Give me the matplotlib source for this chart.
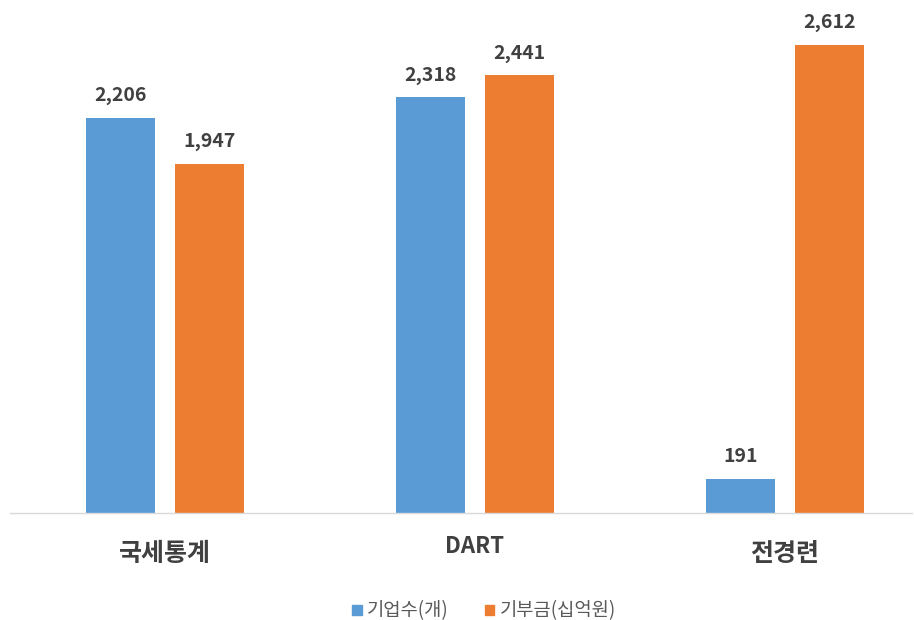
#!/usr/bin/env python3
import numpy as np
import matplotlib
matplotlib.use("Agg")
from matplotlib import pyplot as plt
from matplotlib.patches import Patch

plt.rcParams['font.family'] = ['Noto Sans CJK KR', 'DejaVu Sans']

# 데이터
categories = ['국세통계', 'DART', '전경련']
firms = [2206, 2318, 191]          # 기업수(개)
donations = [1947, 2441, 2612]     # 기부금(십억원)
series_names = ['기업수(개)', '기부금(십억원)']

blue = '#5B9BD5'
orange = '#ED7D31'
txt = '#404040'

W, H = 914, 620
fig = plt.figure(figsize=(W / 100, H / 100), dpi=100)
# axes in pixel coordinates: left 10, right 912, baseline y=513, top y=29
ax = fig.add_axes([10 / W, (H - 513) / H, 902 / W, (513 - 29) / H])

x = np.arange(len(categories))
width = 0.2226
off = 0.1444
b1 = ax.bar(x - off, firms, width, color=blue)
b2 = ax.bar(x + off, donations, width, color=orange)

for bars, vals in ((b1, firms), (b2, donations)):
    for rect, v in zip(bars, vals):
        ax.annotate(f'{v:,}', (rect.get_x() + rect.get_width() / 2, v),
                    xytext=(0, 9), textcoords='offset points',
                    ha='center', va='bottom', fontsize=14,
                    fontweight='bold', color=txt)

ax.set_xlim((10 - 165) / 310, (912 - 165) / 310)
ax.set_ylim(0, 2700)
ax.set_yticks([])
ax.set_xticks([])

# 카테고리 라벨 (DART는 작은 글씨)
for xi, cat, sz, dy in zip(x, categories, [18, 16, 18], [29.5, 24, 29.5]):
    ax.annotate(cat, (xi, 0), xytext=(0, -dy), textcoords='offset points',
                ha='center', va='center', fontsize=sz, fontweight='bold',
                color=txt, annotation_clip=False)

for s in ['top', 'right', 'left']:
    ax.spines[s].set_visible(False)
ax.spines['bottom'].set_color('#D9D9D9')
ax.spines['bottom'].set_linewidth(1)

handles = [Patch(color=blue), Patch(color=orange)]
fig.legend(handles, series_names, loc='center', bbox_to_anchor=(484 / W, (H - 611) / H),
           ncol=2, frameon=False, fontsize=13.5, handlelength=0.5, handleheight=0.5,
           handletextpad=0.3, columnspacing=1.9, labelcolor='#595959')

fig.savefig('out.png', dpi=100)
